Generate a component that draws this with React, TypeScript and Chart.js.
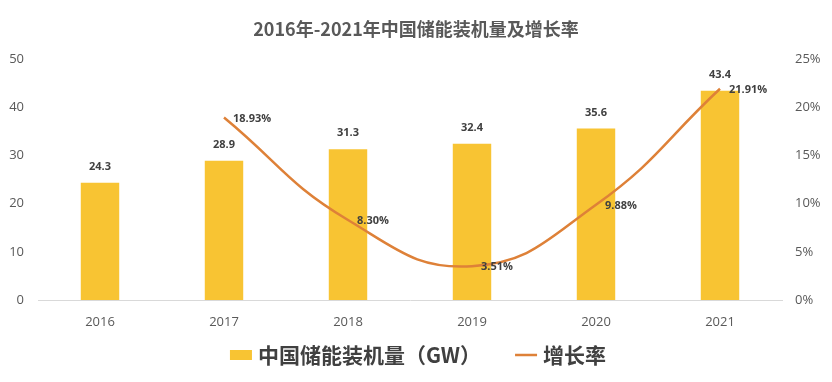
import React, { useEffect, useRef } from "react";
import { Chart, registerables } from "chart.js";

Chart.register(...registerables);

const years = ["2016", "2017", "2018", "2019", "2020", "2021"];
const capacity = [24.3, 28.9, 31.3, 32.4, 35.6, 43.4];
const growth = [null, 18.93, 8.3, 3.51, 9.88, 21.91];
const leftTicks = [0, 10, 20, 30, 40, 50];
const rightTicks = [0, 5, 10, 15, 20, 25];

const TITLE = "2016年-2021年中国储能装机量及增长率";
const BAR_LABEL = "中国储能装机量（GW）";
const LINE_LABEL = "增长率";
const BAR_COLOR = "#F8C433";
const LINE_COLOR = "#DE8138";
const CJK = '"Noto Sans CJK SC", "Open Sans", sans-serif';
const NUM = '"Open Sans", "Noto Sans CJK SC", sans-serif';

const decorPlugin = {
  id: "decor",
  afterDatasetsDraw(chart: any) {
    const ctx = chart.ctx;
    ctx.save();
    ctx.fillStyle = "#404040";
    ctx.font = "bold 11px " + NUM;
    const barMeta = chart.getDatasetMeta(0);
    ctx.textAlign = "center";
    ctx.textBaseline = "middle";
    barMeta.data.forEach((el: any, i: number) => {
      ctx.fillText(capacity[i].toFixed(1), el.x, el.y - 16);
    });
    const lineMeta = chart.getDatasetMeta(1);
    ctx.textAlign = "left";
    lineMeta.data.forEach((el: any, i: number) => {
      const v = growth[i];
      if (v === null || v === undefined) return;
      ctx.fillText(v.toFixed(2) + "%", el.x + 9, el.y + 1);
    });
    ctx.restore();
  },
  afterDraw(chart: any) {
    const ctx = chart.ctx;
    const w = chart.width;
    ctx.save();
    // title
    ctx.fillStyle = "#595959";
    ctx.font = "bold 18px " + CJK;
    ctx.textAlign = "center";
    ctx.textBaseline = "middle";
    ctx.fillText(TITLE, w / 2, 29);
    // legend
    ctx.font = "bold 21px " + CJK;
    ctx.textAlign = "left";
    const t1 = ctx.measureText(BAR_LABEL).width;
    const t2 = ctx.measureText(LINE_LABEL).width;
    const box = 22;
    const gap = 6;
    const between = 34;
    const total = box + gap + t1 + between + box + gap + t2;
    let x = w / 2 + 2 - total / 2;
    const y = 355;
    ctx.fillStyle = BAR_COLOR;
    ctx.fillRect(x, y - 5, box, 10);
    x += box + gap;
    ctx.fillStyle = "#404040";
    ctx.fillText(BAR_LABEL, x, y);
    x += t1 + between;
    ctx.strokeStyle = LINE_COLOR;
    ctx.lineWidth = 2.5;
    ctx.beginPath();
    ctx.moveTo(x, y);
    ctx.lineTo(x + box, y);
    ctx.stroke();
    x += box + gap;
    ctx.fillStyle = "#404040";
    ctx.fillText(LINE_LABEL, x, y);
    ctx.restore();
  },
};

export default function App() {
  const ref = useRef<HTMLCanvasElement | null>(null);
  useEffect(() => {
    document.body.style.margin = "0";
    const canvas = ref.current;
    if (!canvas) return;
    const chart = new Chart(canvas, {
      type: "bar",
      data: {
        labels: years,
        datasets: [
          {
            type: "bar",
            label: BAR_LABEL,
            data: capacity,
            backgroundColor: BAR_COLOR,
            yAxisID: "y",
            barPercentage: 0.31,
            categoryPercentage: 1,
            order: 2,
          },
          {
            type: "line",
            label: LINE_LABEL,
            data: growth as any,
            borderColor: LINE_COLOR,
            backgroundColor: LINE_COLOR,
            borderWidth: 2.5,
            pointRadius: 0,
            tension: 0.45,
            yAxisID: "y1",
            order: 1,
          },
        ],
      },
      options: {
        responsive: false,
        animation: false,
        layout: { padding: { top: 59, left: 0, right: 0, bottom: 0 } },
        plugins: {
          legend: { display: false },
          title: { display: false },
          tooltip: { enabled: false },
        },
        scales: {
          x: {
            offset: true,
            grid: { display: false, drawTicks: false },
            border: { display: true, color: "#D9D9D9", width: 1 },
            ticks: {
              color: "#595959",
              font: { family: NUM, size: 13 },
              padding: 14,
            },
            afterFit(axis: any) {
              axis.height = 82;
            },
          },
          y: {
            position: "left",
            min: 0,
            max: 50,
            afterBuildTicks(axis: any) {
              axis.ticks = leftTicks.map((v) => ({ value: v }));
            },
            grid: { display: false, drawTicks: false },
            border: { display: false },
            ticks: {
              color: "#595959",
              font: { family: NUM, size: 13 },
              padding: 14,
            },
            afterFit(axis: any) {
              axis.width = 38;
            },
          },
          y1: {
            position: "right",
            min: 0,
            max: 25,
            afterBuildTicks(axis: any) {
              axis.ticks = rightTicks.map((v) => ({ value: v }));
            },
            grid: { display: false, drawTicks: false },
            border: { display: false },
            ticks: {
              color: "#595959",
              font: { family: NUM, size: 13 },
              padding: 13,
              callback: (v: any) => v + "%",
            },
            afterFit(axis: any) {
              axis.width = 50;
            },
          },
        },
      },
      plugins: [decorPlugin],
    });
    return () => chart.destroy();
  }, []);
  return (
    <div style={{ position: "absolute", left: 0, top: 0, width: 832, height: 382, background: "#fff" }}>
      <canvas ref={ref} width={832} height={382} />
    </div>
  );
}
